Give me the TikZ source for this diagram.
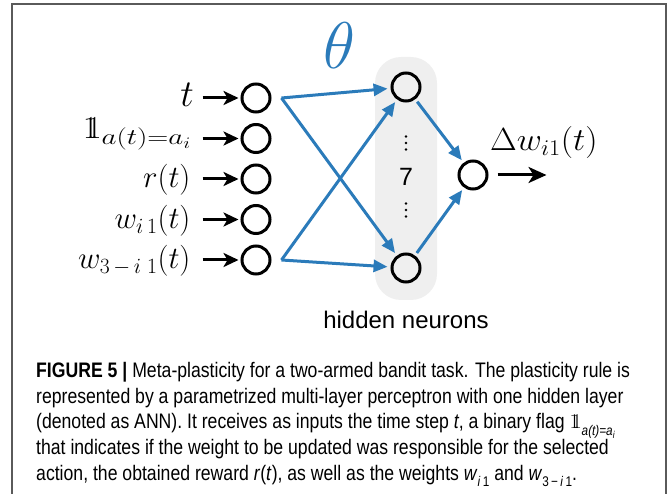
\RequirePackage{fix-cm}
\documentclass[tikz,border=0pt]{standalone}
\usepackage{fontspec}
\usepackage{amsmath}
\usepackage{graphicx}
\usetikzlibrary{arrows.meta}
\newfontfamily\capfont[FakeStretch=0.84]{Liberation Sans}
\newfontfamily\labfont{Liberation Sans}
\definecolor{netblue}{HTML}{2B7BBA}
\definecolor{bandgray}{HTML}{EFEFEF}
\definecolor{framegray}{HTML}{5A5A5A}
% indicator "one" with a doubled stem
\newcommand{\indone}{\mathrm{1\kern-0.34em1}}
\tikzset{
  neuron/.style={circle, draw=black, line width=3pt, minimum size=28pt, inner sep=0pt},
  inarrow/.style={line width=3pt, -{Stealth[length=15pt,width=14pt,inset=4pt]}},
  outarrow/.style={line width=3pt, -{Stealth[length=18pt,width=16pt,inset=5pt]}},
  wconn/.style={netblue, line width=3pt, -{Triangle[length=14pt,width=12pt]}, shorten >=3pt},
  inlabel/.style={anchor=base east, font=\fontsize{31}{31}\selectfont},
  capline/.style={anchor=base west, inner sep=0pt, font=\capfont\fontsize{21}{25}\selectfont},
}
\newcommand{\capsub}[1]{\raisebox{-0.3em}{\fontsize{14}{14}\selectfont #1}}
\begin{document}
\begin{tikzpicture}[x=1pt, y=-1pt]
\useasboundingbox (0,0) rectangle (670,494);
% outer frame, open at the bottom
\draw[framegray, line width=1.5pt] (12,494) -- (12,4) -- (666,4) -- (666,494);

% band behind the hidden layer
\fill[bandgray, rounded corners=26pt] (375,57) rectangle (437,300);

% input neurons
\node[neuron] (i1) at (256,98) {};
\node[neuron] (i2) at (256,138.5) {};
\node[neuron] (i3) at (256,179) {};
\node[neuron] (i4) at (256,219.5) {};
\node[neuron] (i5) at (256,260) {};

% input labels
\node[anchor=base east, inner sep=0pt, font=\fontsize{38}{38}\selectfont] (l1) at (194,107) {$t$};
\node[inlabel, font=\fontsize{32}{32}\selectfont] (l2) at (195,139) {$\indone_{\scalebox{1.3}[1]{$\scriptstyle a(t)=a_i$}}$};
\node[inlabel] (l3) at (194,188) {$r(t)$};
\node[inlabel] (l4) at (194,228.5) {$w_{i\,1}(t)$};
\node[inlabel] (l5) at (194,269) {$w_{3\,{-}\,i\;1}(t)$};

% input arrows
\foreach \k in {1,...,5}
  \draw[inarrow] ([xshift=-38pt]i\k.west) -- ([xshift=-2pt]i\k.west);

% hidden and output neurons
\node[neuron] (h1) at (406,87) {};
\node[neuron] (h2) at (406,268) {};
\node[neuron] (o) at (473,175) {};

% elided hidden units
\foreach \y in {136.5,143,149.5,203.5,210,216.5}
  \fill (406,\y) circle (1.3pt);
\node[font=\labfont\fontsize{25}{25}\selectfont, inner sep=0pt] (n7) at (406,177) {7};
\node[font=\labfont\fontsize{24}{24}\selectfont] (hl) at (406,320) {hidden neurons};

% parameters theta
\node[text=netblue, font=\fontsize{66}{66}\selectfont] (theta) at (339,46) {$\theta$};

% weighted connections
\draw[wconn] ([xshift=10pt]i1.east) -- (h1);
\draw[wconn] ([xshift=10pt]i1.east) -- (h2);
\draw[wconn] ([xshift=10pt]i5.east) -- (h1);
\draw[wconn] ([xshift=10pt]i5.east) -- (h2);
\draw[wconn, shorten <=3pt] (h1) -- (o);
\draw[wconn, shorten <=3pt] (h2) -- (o);

% output
\draw[outarrow] ([xshift=9pt]o.east) -- ([xshift=58pt]o.east);
\node[anchor=base west, inner sep=0pt, font=\fontsize{32}{32}\selectfont] (dl) at (490,151) {\scalebox{1.08}[1]{$\Delta w_{i1}(t)$}};

% caption
\node[capline] (c1) at (36,378) {\textbf{FIGURE 5 |} Meta-plasticity for a two-armed bandit task. The plasticity rule is};
\node[capline] (c2) at (36,403.5) {represented by a parametrized multi-layer perceptron with one hidden layer};
\node[capline] (c3) at (36,429) {(denoted as ANN). It receives as inputs the time step \textit{t}, a binary flag $\indone$\capsub{\itshape a(t)=a\raisebox{-0.2em}{\fontsize{10}{10}\selectfont i}}};
\node[capline] (c4) at (36,454.5) {that indicates if the weight to be updated was responsible for the selected};
\node[capline] (c5) at (36,480) {action, the obtained reward \textit{r}(\textit{t}), as well as the weights \textit{w}\capsub{\textit{i}\,1} and \textit{w}\capsub{3\,−\,\textit{i}\,1}.};
\end{tikzpicture}
\end{document}
